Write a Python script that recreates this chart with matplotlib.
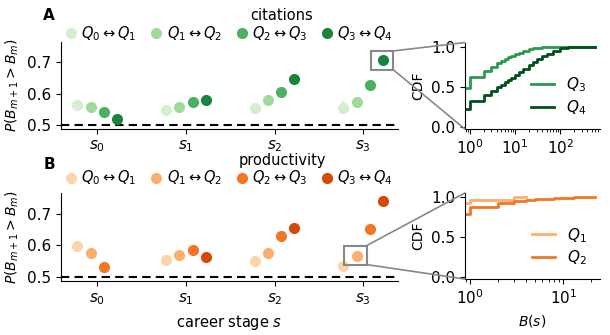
import numpy as np
import matplotlib.pyplot as plt
from matplotlib.lines import Line2D
from matplotlib.patches import Rectangle, ConnectionPatch

# ---- data
stages = [0, 1, 2, 3]
stage_labels = ['$s_0$', '$s_1$', '$s_2$', '$s_3$']
pair_labels = [r'$Q_0 \leftrightarrow Q_1$', r'$Q_1 \leftrightarrow Q_2$',
               r'$Q_2 \leftrightarrow Q_3$', r'$Q_3 \leftrightarrow Q_4$']

# citations, one list per quantile pair, values for s0..s3
cit_q01 = [0.564, 0.546, 0.553, 0.555]
cit_q12 = [0.556, 0.556, 0.581, 0.572]
cit_q23 = [0.540, 0.573, 0.604, 0.628]
cit_q34 = [0.520, 0.581, 0.647, 0.706]
cit_err = [[0.004, 0.004, 0.005, 0.02],
           [0.004, 0.004, 0.005, 0.015],
           [0.004, 0.004, 0.005, 0.01],
           [0.004, 0.004, 0.005, 0.006]]

# productivity (no Q3<->Q4 value at s0)
prod_q01 = [0.598, 0.553, 0.549, 0.535]
prod_q12 = [0.577, 0.570, 0.577, 0.567]
prod_q23 = [0.530, 0.586, 0.629, 0.651]
prod_q34 = [np.nan, 0.562, 0.653, 0.740]
prod_err = [[0.004, 0.004, 0.004, 0.004],
            [0.004, 0.004, 0.004, 0.012],
            [0.004, 0.004, 0.004, 0.01],
            [0.004, 0.004, 0.004, 0.005]]

# CDFs of B(s) for the zoomed points
cit_b = [0, 1, 2, 3, 4, 5, 6, 7, 8, 10, 12, 15, 20, 25, 30, 40, 50, 70, 100, 150, 200, 300, 600]
cit_cdf_q3 = [0.48, 0.62, 0.70, 0.75, 0.79, 0.82, 0.845, 0.865, 0.88, 0.905, 0.925, 0.945,
              0.965, 0.977, 0.985, 0.993, 0.997, 0.999, 1.0, 1.0, 1.0, 1.0, 1.0]
cit_cdf_q4 = [0.22, 0.325, 0.40, 0.45, 0.49, 0.525, 0.555, 0.58, 0.605, 0.645, 0.68, 0.72,
              0.77, 0.81, 0.84, 0.88, 0.91, 0.95, 0.98, 0.993, 0.998, 1.0, 1.0]

prod_b_q1 = [0, 1, 2, 3, 4]
prod_cdf_q1 = [0.925, 0.967, 0.967, 0.995, 1.0]
prod_b_q2 = [0, 1, 2, 3, 4, 5, 6, 8, 10, 13, 16, 22]
prod_cdf_q2 = [0.79, 0.88, 0.925, 0.95, 0.962, 0.97, 0.977, 0.985, 0.99, 0.995, 0.998, 1.0]

greens = ['#d4eecf', '#a1d99b', '#4bb062', '#1a843f']
oranges = ['#fdd4aa', '#fdae6b', '#f47524', '#d34a04']
offsets = [-0.225, -0.075, 0.075, 0.225]

plt.rcParams['font.size'] = 10
plt.rcParams['xtick.labelsize'] = 11
plt.rcParams['ytick.labelsize'] = 11

fig = plt.figure(figsize=(6.1, 3.35), dpi=100)
axA = fig.add_axes([0.100, 0.615, 0.552, 0.260])
axB = fig.add_axes([0.100, 0.161, 0.552, 0.263])
cA = fig.add_axes([0.762, 0.615, 0.222, 0.258])
cB = fig.add_axes([0.762, 0.167, 0.222, 0.257])


def scatter_panel(ax, series, errs, colors, title, ty, ly):
    x = np.array(stages, dtype=float)
    handles = []
    for i, (vals, err) in enumerate(zip(series, errs)):
        ax.errorbar(x + offsets[i], vals, yerr=err, fmt='o', ms=7, color=colors[i],
                    elinewidth=1.5, capsize=0, zorder=3)
        handles.append(Line2D([], [], marker='o', ls='', ms=7, color=colors[i]))
    ax.axhline(0.5, color='k', ls='--', lw=1.5, dashes=(4, 2.5), zorder=2)
    ax.set_xlim(-0.41, 3.39)
    ax.set_ylim(0.487, 0.765)
    ax.set_yticks([0.5, 0.6, 0.7])
    ax.set_xticks(stages)
    ax.set_xticklabels(stage_labels, fontsize=11)
    ax.set_ylabel(r'$P(B_{m+1} > B_m)$')
    ax.spines['top'].set_visible(False)
    ax.spines['right'].set_visible(False)
    ax.legend(handles, pair_labels, loc='center', bbox_to_anchor=(0.495, ly), ncol=4,
              frameon=False, handletextpad=0.1, columnspacing=0.75, handlelength=1.2,
              fontsize=10.5, borderaxespad=0)
    ax.text(0.656, ty, title, transform=ax.transAxes, ha='center', va='center', fontsize=10.5)


scatter_panel(axA, [cit_q01, cit_q12, cit_q23, cit_q34], cit_err, greens, 'citations', 1.30, 1.10)
scatter_panel(axB, [prod_q01, prod_q12, prod_q23, prod_q34], prod_err, oranges, 'productivity', 1.37, 1.17)
axA.tick_params(axis='x', pad=3.5)
axB.tick_params(axis='x', pad=4)
axB.set_xlabel('career stage $s$', fontsize=10.5)

fig.text(0.071, 0.953, 'A', fontweight='bold', fontsize=11, ha='left', va='center')
fig.text(0.071, 0.508, 'B', fontweight='bold', fontsize=11, ha='left', va='center')


def cdf_panel(ax, curves, xlim):
    for b, cdf, col, lab in curves:
        b = np.maximum(np.array(b, dtype=float), 0.1)
        ax.plot(b, cdf, drawstyle='steps-post', color=col, lw=2, label=lab)
    ax.set_xscale('log')
    ax.set_xlim(*xlim)
    ax.set_ylim(-0.03, 1.05)
    ax.set_yticks([0.0, 0.5, 1.0])
    ax.set_ylabel('CDF')
    ax.spines['top'].set_visible(False)
    ax.spines['right'].set_visible(False)
    ax.legend(loc='lower right', frameon=False, fontsize=11, handlelength=1.5,
              labelspacing=0.25, bbox_to_anchor=(1.0, -0.02))


cdf_panel(cA, [(cit_b, cit_cdf_q3, '#2b9a4f', '$Q_3$'),
               (cit_b, cit_cdf_q4, '#00501f', '$Q_4$')], (0.77, 770))
cdf_panel(cB, [(prod_b_q1, prod_cdf_q1, '#fdae6b', '$Q_1$'),
               (prod_b_q2, prod_cdf_q2, '#f47524', '$Q_2$')], (0.88, 25))
cB.set_xlabel('$B(s)$')


def zoom_box(ax, cax, xc, yc, w, h):
    ax.add_patch(Rectangle((xc - w / 2, yc - h / 2), w, h, fill=False,
                           ec='#888888', lw=1.5, zorder=4))
    for ycorner, yax in [(yc + h / 2, 1), (yc - h / 2, 0)]:
        con = ConnectionPatch(xyA=(xc + w / 2, ycorner), coordsA=ax.transData,
                              xyB=(0, yax), coordsB=cax.transAxes,
                              color='#888888', lw=1.2)
        fig.add_artist(con)


zoom_box(axA, cA, 3.215, 0.706, 0.25, 0.06)
zoom_box(axB, cB, 2.91, 0.569, 0.26, 0.06)

fig.savefig('out.png', dpi=100)
